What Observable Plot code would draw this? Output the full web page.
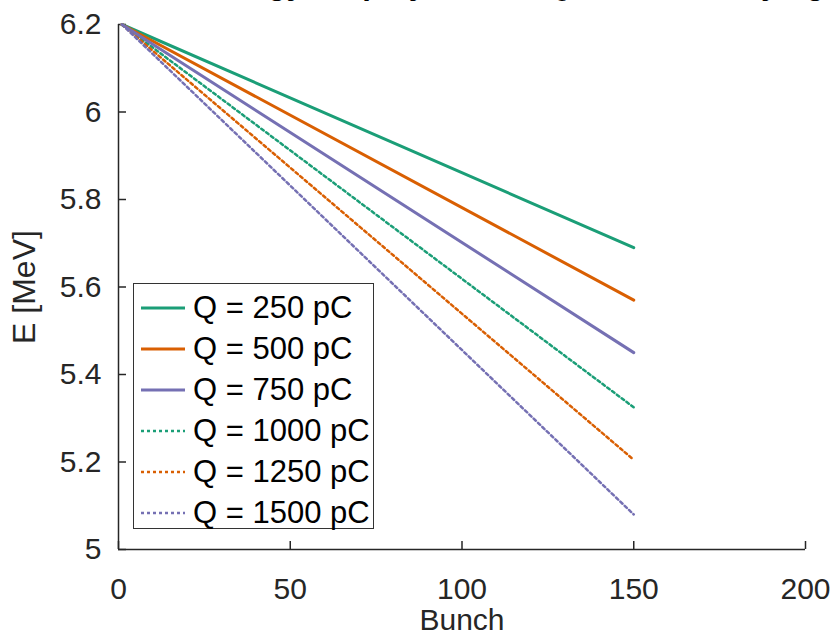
<!DOCTYPE html>
<html>
<head>
<meta charset="utf-8">
<script src="https://cdn.jsdelivr.net/npm/d3@7"></script>
<script src="https://cdn.jsdelivr.net/npm/@observablehq/plot@0.6"></script>
<style>
  html, body { margin: 0; padding: 0; background: #fff; }
  #wrap { position: relative; width: 833px; height: 636px; overflow: hidden; font-family: "Liberation Sans", Arial, Helvetica, sans-serif; color: #262626; }
  #titleclip { position: absolute; left: 0; top: 0; width: 833px; height: 7px; overflow: hidden; }
  #title { position: absolute; left: 97px; top: -29px; font-weight: bold; font-size: 31px; line-height: 26px; white-space: nowrap; color: #000; }
  #legend { position: absolute; left: 133px; top: 283px; width: 241px; height: 246px; border: 1px solid #333; background: #fff; box-sizing: border-box; }
  .row { position: absolute; left: 0; height: 40px; display: flex; align-items: center; }
  .row svg { margin-left: 7px; margin-right: 8px; }
  .row span { font-size: 31px; color: #000; white-space: nowrap; }
</style>
</head>
<body>
<div id="wrap">
  <div id="chart"></div>
  <div id="titleclip"><div id="title">Bunch energy drop by bunch, Q_bunch = varying</div></div>
  <div id="legend"></div>
</div>
<script>
const bunches = [1, 150];
const charges = [250, 500, 750, 1000, 1250, 1500];
const labels = ["Q = 250 pC", "Q = 500 pC", "Q = 750 pC", "Q = 1000 pC", "Q = 1250 pC", "Q = 1500 pC"];
const e250 = [6.2, 5.69];
const e500 = [6.2, 5.57];
const e750 = [6.2, 5.45];
const e1000 = [6.2, 5.325];
const e1250 = [6.2, 5.205];
const e1500 = [6.2, 5.08];
const xTicks = [0, 50, 100, 150, 200];
const yTicks = [5, 5.2, 5.4, 5.6, 5.8, 6, 6.2];

const colors = ["#1b9e77", "#d95f02", "#7570b3", "#1b9e77", "#d95f02", "#7570b3"];
const dashed = [false, false, false, true, true, true];
const series = [e250, e500, e750, e1000, e1250, e1500];

const data = [];
series.forEach((vals, i) => {
  vals.forEach((v, j) => data.push({bunch: bunches[j], E: v, q: charges[i], label: labels[i]}));
});

const solid = data.filter(d => d.q <= 750);
const dotted = data.filter(d => d.q > 750);
const axisColor = "#262626";

const chart = Plot.plot({
  width: 833,
  height: 636,
  marginTop: 24,
  marginLeft: 118,
  marginRight: 28,
  marginBottom: 87,
  style: {fontFamily: "'Liberation Sans', Arial, Helvetica, sans-serif", fontSize: "30px", color: axisColor, background: "white", overflow: "visible"},
  x: {domain: [0, 200]},
  y: {domain: [5, 6.2]},
  color: {domain: charges, range: colors},
  marks: [
    Plot.ruleX([0], {stroke: axisColor, strokeWidth: 1.5}),
    Plot.ruleY([5], {stroke: axisColor, strokeWidth: 1.5}),
    Plot.axisX({ticks: xTicks, tickSize: 0, tickPadding: 28, tickFormat: d => String(d), label: null, fill: axisColor, fontSize: 30}),
    Plot.axisY({ticks: yTicks, tickSize: 0, tickPadding: 17, tickFormat: d => String(d), label: null, fill: axisColor, fontSize: 30}),
    Plot.axisX({ticks: xTicks, tickSize: 8, dy: -8, tickFormat: () => "", label: null, stroke: axisColor, strokeWidth: 1.5}),
    Plot.axisY({ticks: yTicks, tickSize: 8, dx: 8, tickFormat: () => "", label: null, stroke: axisColor, strokeWidth: 1.5}),
    Plot.text(["Bunch"], {frameAnchor: "bottom", dy: 71, lineAnchor: "middle", textAnchor: "middle", fill: axisColor, fontSize: 30}),
    Plot.text(["E [MeV]"], {frameAnchor: "left", dx: -94, rotate: -90, lineAnchor: "middle", textAnchor: "middle", fill: axisColor, fontSize: 32}),
    Plot.line(dotted, {x: "bunch", y: "E", z: "q", stroke: "q", strokeWidth: 2.5, strokeDasharray: "3,3"}),
    Plot.line(solid, {x: "bunch", y: "E", z: "q", stroke: "q", strokeWidth: 3})
  ]
});
document.getElementById("chart").appendChild(chart);

const legend = document.getElementById("legend");
labels.forEach((lab, i) => {
  const row = document.createElement("div");
  row.className = "row";
  row.style.top = (4 + i * 41) + "px";
  const dash = dashed[i] ? 'stroke-dasharray="3,3"' : "";
  row.innerHTML = `<svg width="44" height="10"><line x1="0" y1="5" x2="44" y2="5" stroke="${colors[i]}" stroke-width="${dashed[i] ? 2.5 : 3}" ${dash}/></svg><span>${lab}</span>`;
  legend.appendChild(row);
});
</script>
</body>
</html>
